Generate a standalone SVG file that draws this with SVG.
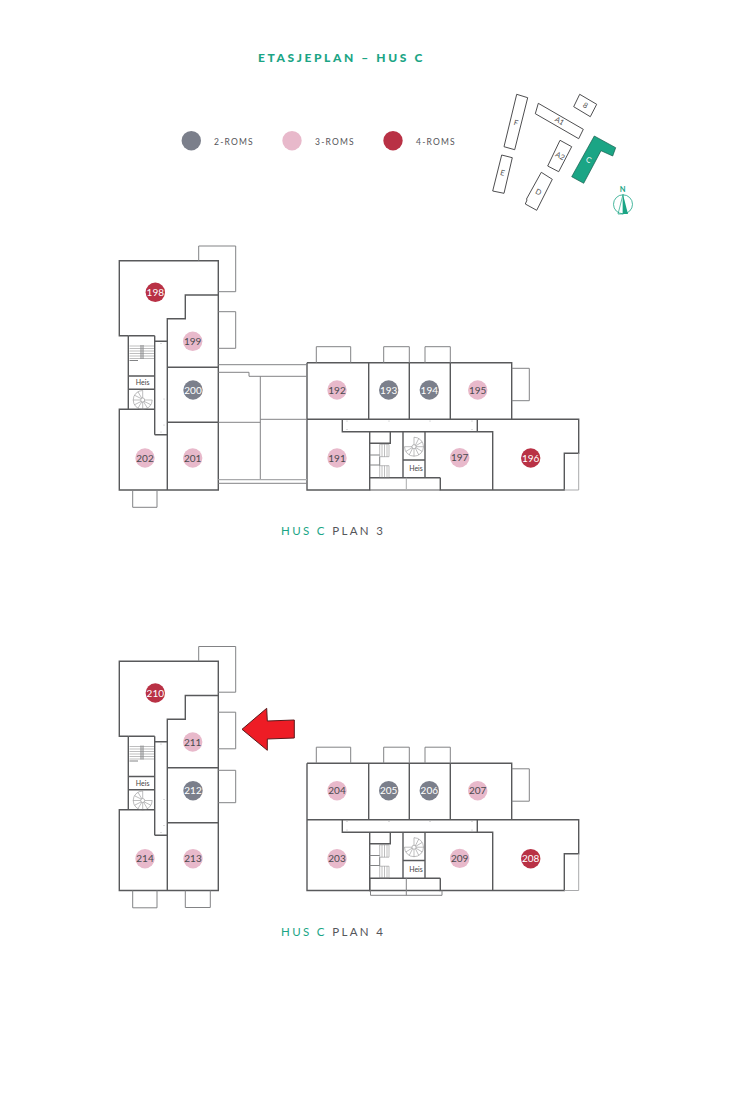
<svg xmlns="http://www.w3.org/2000/svg" xmlns:xlink="http://www.w3.org/1999/xlink" width="742" height="1095" viewBox="0 0 742 1095">
<style>
text{font-family:"Lato","Liberation Sans",sans-serif}
.w{fill:none;stroke:#58595b;stroke-width:1.4;stroke-linejoin:miter}
.b{fill:none;stroke:#828385;stroke-width:1}
.t{fill:none;stroke:#7c7d7f;stroke-width:.5}
.bl{fill:none;stroke:#a9aaac;stroke-width:1}
.n{font-size:10px;text-anchor:middle;fill:#4a4a4e}
.nw{font-size:10px;text-anchor:middle;fill:#fff}
.r2{fill:#7b7f8b}.r3{fill:#e8b9cb}.r4{fill:#b93145}
.lg{font-size:8.5px;letter-spacing:1.2px;fill:#55565a}
.cap{font-size:11.5px;letter-spacing:2.35px;fill:#55565a}
.teal{fill:#1ba585}
.h{font-size:7px;text-anchor:middle;fill:#444}
.site{fill:#fff;stroke:#3a3a3c;stroke-width:.9}
.sl{font-size:7.5px;text-anchor:middle;fill:#555}
</style>
<defs>
<g id="spiral" class="t">
<path d="M9.5 0A9.5 9.5 0 1 1 0-9.5M0 0H9.5M1.3 1.3L8.2 4.75M.8 1.6L4.75 8.2M0 2V9.5M-.8 1.6L-4.75 8.2M-1.3 1.3L-8.2 4.75M-2 0H-9.5M-1.3-1.3L-8.2-4.75M-.8-1.6L-4.75-8.2M0-2V-9.5"/>
<circle r="2" fill="#fff"/>
</g>
<g id="left-core">
<path class="w" d="M128.300 335.700H154.700M128.300 376H154.700M128.300 389.300H154.700M128.300 335.700V409.300M154.700 335.700V434.700"/>
<path class="t" d="M129.500 346H154M129.500 348.500H154M129.500 351H154M129.500 353.500H154M129.500 356H154M129.500 358.500H154"/>
<path class="b" d="M141 345V359M143 345V359M129.500 360.500H138"/>
<use href="#spiral" x="142.700" y="400"/>
</g>
<g id="right-core">
<path class="w" d="M369.700 443.300H390.300V431.700M403 431.700V477.700M425 431.700V477.700M403 460H425M369.700 477.700H440.300"/>
<path class="t" d="M379.700 444.300H389V456.700H379.700ZM382 444.300V456.700M384.500 444.300V456.700M387 444.300V456.700M379.700 465.700H389V477.700H379.700ZM382 465.700V477.700M384.500 465.700V477.700M387 465.700V477.700"/>
<path class="b" d="M369.700 455H379.700M369.700 465H379.700M379.700 456.700V465.700"/>
<use href="#spiral" transform="translate(414 446.700) rotate(-90)"/>
</g>
<g id="dots" fill="#a5a6a8">
<circle cx="161" cy="343.500" r=".5"/><circle cx="164" cy="399" r=".5"/><circle cx="164" cy="425" r=".5"/><circle cx="161" cy="432" r=".5"/><circle cx="347" cy="421" r=".5"/><circle cx="389" cy="421" r=".5"/><circle cx="430" cy="421" r=".5"/><circle cx="472" cy="421" r=".5"/><circle cx="347" cy="429.500" r=".5"/><circle cx="472" cy="429.500" r=".5"/>
</g>
<g id="shell">
<path class="w" d="M128.300 335.700H119.300V260.700H218.300V490H119.300V409.300H154.700M218.300 295H185.300V318.700H167.300V490M154.700 341.300H167.300M154.700 434.700H167.300M167.300 367.300H218.300M167.300 422.300H218.300"/>
<path class="w" d="M307 362.700H511.700V419.300H578.700V453.300H564.300V490H440.300V477.700M307 362.700V490H369.700V431.700M307 419.300H342.300V431.700H492.700V490M342.300 419.300H511.700M368.700 362.700V419.300M409.300 362.700V419.300M450.300 362.700V419.300M511.700 362.700V419.300M477.300 419.300V431.700"/>
<path class="bl" d="M578.700 453.300V490H564.300"/>
<path class="b" d="M198.700 260.700V246H235.700V291.700H218.300M316.300 362.700V346.700H350.700V362.700M383.700 362.700V346.700H409.300V362.700M425 362.700V346.700H450.300V362.700M511.700 368.300H529.300V400.700H511.700M132.700 490V507.300H157V490M218.300 311.700H235.700V348.300H218.300"/>
<use href="#left-core"/><use href="#right-core"/><use href="#dots"/>
</g>
</defs>
<rect width="742" height="1095" fill="#fff"/>

<text id="title" x="258" y="62" font-size="12" font-weight="900" letter-spacing="2.6" class="teal">ETASJEPLAN – HUS C</text>

<g id="legend">
<g id="legend-2"><circle class="r2" cx="191.300" cy="140.700" r="9.700"/><text class="lg" x="214" y="145">2-ROMS</text></g>
<g id="legend-3"><circle class="r3" cx="292" cy="140.700" r="9.700"/><text class="lg" x="315" y="145">3-ROMS</text></g>
<g id="legend-4"><circle class="r4" cx="393" cy="140.700" r="9.700"/><text class="lg" x="416" y="145">4-ROMS</text></g>
</g>

<g id="site-map">
<polygon class="site" points="516.700,94.300 527.700,97.700 514.700,149.700 504,146.700"/><text class="sl" transform="translate(516 123) rotate(15)" x="0" y="2.500">F</text>
<polygon class="site" points="501.700,155 512.300,157.700 504,193.300 492.700,191"/><text class="sl" transform="translate(502.500 173) rotate(15)" x="0" y="2.500">E</text>
<polygon class="site" points="538.300,103.300 583.300,129.300 578.700,138.700 535.300,113.700"/><text class="sl" transform="translate(559.500 121) rotate(30)" x="0" y="2.500">A1</text>
<polygon class="site" points="579.700,94.300 596.700,104.300 590.300,116.700 573.700,106.700"/><text class="sl" transform="translate(585.500 105.500) rotate(30)" x="0" y="2.500">8</text>
<polygon class="site" points="560,140.300 571.700,146.700 558.700,171.700 547.700,166"/><text class="sl" transform="translate(560 156) rotate(27)" x="0" y="2.500">A2</text>
<polygon class="site" points="541.300,172.300 552.300,179.300 536.700,210.300 525.300,204 527,200 526.500,199"/><text class="sl" transform="translate(538.500 192) rotate(27)" x="0" y="2.500">D</text>
<polygon points="594.300,136 615.700,147.700 612.700,156 601,150.700 583.700,183.300 571.700,176.700" fill="#1ba585" stroke="#155f4e" stroke-width=".7"/><text class="sl" transform="translate(588.500 160) rotate(27)" x="0" y="2.500" style="fill:#fff">C</text>
<g id="north"><circle cx="623" cy="204.300" r="9.500" fill="none" stroke="#1ba585" stroke-width=".8"/><path d="M623 194.500L618 214H623Z" fill="none" stroke="#1ba585" stroke-width=".7"/><path d="M623 194.500L628 214H623Z" fill="#1ba585"/><text x="622.700" y="192" font-size="7.500" font-weight="700" text-anchor="middle" class="teal">N</text></g>
</g>

<g id="plan-3">
<use href="#shell"/>
<g id="connectors-3" class="b">
<path class="b" d="M218.300 364.700H307M218.300 372.300H249V376.300H307M260.300 376.300V480M218.300 422.300H260.300M260.300 419.300H307M218.300 483.300H307"/>
<path d="M218.300 479.700H307" fill="none" stroke="#a9aaac" stroke-width="1.300"/>
<path class="bl" d="M406.300 477.700V489"/>
<path class="w" d="M369.700 490H440.300" style="stroke-width:1"/>
</g>
<g id="apt-198"><circle class="r4" cx="155.300" cy="292.300" r="9.700"/><text class="nw" x="155.300" y="295.800">198</text></g>
<g id="apt-199"><circle class="r3" cx="192.700" cy="341.300" r="9.700"/><text class="n" x="192.700" y="344.800">199</text></g>
<g id="apt-200"><circle class="r2" cx="193" cy="390" r="9.700"/><text class="nw" x="193" y="393.500">200</text></g>
<g id="apt-201"><circle class="r3" cx="192.700" cy="458" r="9.700"/><text class="n" x="192.700" y="461.500">201</text></g>
<g id="apt-202"><circle class="r3" cx="145" cy="458" r="9.700"/><text class="n" x="145" y="461.500">202</text></g>
<g id="apt-192"><circle class="r3" cx="337" cy="390" r="9.700"/><text class="n" x="337" y="393.500">192</text></g>
<g id="apt-193"><circle class="r2" cx="388.700" cy="390" r="9.700"/><text class="nw" x="388.700" y="393.500">193</text></g>
<g id="apt-194"><circle class="r2" cx="429.300" cy="390" r="9.700"/><text class="nw" x="429.300" y="393.500">194</text></g>
<g id="apt-195"><circle class="r3" cx="477.700" cy="390" r="9.700"/><text class="n" x="477.700" y="393.500">195</text></g>
<g id="apt-191"><circle class="r3" cx="337" cy="458" r="9.700"/><text class="n" x="337" y="461.500">191</text></g>
<g id="apt-197"><circle class="r3" cx="459.700" cy="457.700" r="9.700"/><text class="n" x="459.700" y="461.200">197</text></g>
<g id="apt-196"><circle class="r4" cx="530.700" cy="458" r="9.700"/><text class="nw" x="530.700" y="461.500">196</text></g>
<text class="h" x="142.700" y="385">Heis</text>
<text class="h" x="416" y="471">Heis</text>
<text id="caption-3" class="cap" x="281" y="535"><tspan class="teal">HUS C</tspan> PLAN 3</text>
</g>

<g id="plan-4">
<use href="#shell" y="400.500"/>
<g id="connectors-4">
<path class="b" d="M218.300 770.300H235.700V802.700H218.300M185.300 890.500V907.500H210.300V890.500"/>
<path class="w" d="M369.700 878.200V890.500H440.300"/>
<path class="b" d="M406.300 878.200V895.300M370.500 890.500V895.300H442V890.500"/>
</g>
<g id="apt-210"><circle class="r4" cx="155.300" cy="693" r="9.700"/><text class="nw" x="155.300" y="696.500">210</text></g>
<g id="apt-211"><circle class="r3" cx="192.700" cy="742" r="9.700"/><text class="n" x="192.700" y="745.500">211</text></g>
<g id="apt-212"><circle class="r2" cx="193" cy="790.700" r="9.700"/><text class="nw" x="193" y="794.200">212</text></g>
<g id="apt-213"><circle class="r3" cx="193" cy="858.700" r="9.700"/><text class="n" x="193" y="862.200">213</text></g>
<g id="apt-214"><circle class="r3" cx="145" cy="858.700" r="9.700"/><text class="n" x="145" y="862.200">214</text></g>
<g id="apt-204"><circle class="r3" cx="337" cy="790.700" r="9.700"/><text class="n" x="337" y="794.200">204</text></g>
<g id="apt-205"><circle class="r2" cx="388.700" cy="790.700" r="9.700"/><text class="nw" x="388.700" y="794.200">205</text></g>
<g id="apt-206"><circle class="r2" cx="429.300" cy="790.700" r="9.700"/><text class="nw" x="429.300" y="794.200">206</text></g>
<g id="apt-207"><circle class="r3" cx="477.700" cy="790.700" r="9.700"/><text class="n" x="477.700" y="794.200">207</text></g>
<g id="apt-203"><circle class="r3" cx="337" cy="858.700" r="9.700"/><text class="n" x="337" y="862.200">203</text></g>
<g id="apt-209"><circle class="r3" cx="459.700" cy="858.400" r="9.700"/><text class="n" x="459.700" y="861.900">209</text></g>
<g id="apt-208"><circle class="r4" cx="530.700" cy="858.700" r="9.700"/><text class="nw" x="530.700" y="862.200">208</text></g>
<text class="h" x="142.700" y="785.500">Heis</text>
<text class="h" x="416" y="871.500">Heis</text>
<text id="caption-4" class="cap" x="281" y="935.500"><tspan class="teal">HUS C</tspan> PLAN 4</text>
</g>

<polygon id="red-arrow" points="242,729.300 266.700,708.300 267.300,721 294.300,720 294.300,738 267.300,739 267.300,750.300" fill="#ee1c25" stroke="#5a1a1c" stroke-width="1"/>
</svg>
